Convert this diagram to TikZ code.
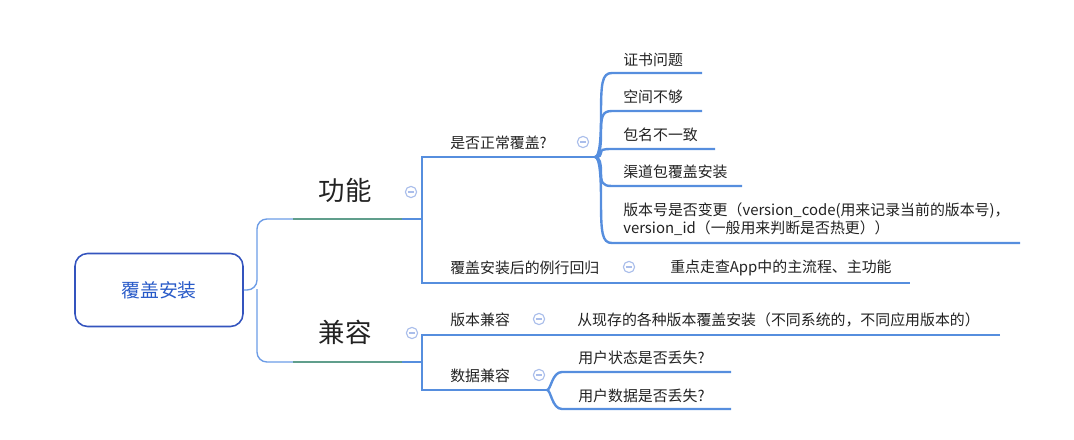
\documentclass[tikz,border=0pt]{standalone}
\usepackage{fontspec}
\setmainfont{Noto Sans CJK SC}
\definecolor{rootblue}{RGB}{52,84,190}
\definecolor{rootink}{RGB}{40,90,200}
\definecolor{linkblue}{RGB}{108,156,230}
\definecolor{branchblue}{RGB}{86,142,222}
\definecolor{mainteal}{RGB}{96,158,140}
\definecolor{foldblue}{RGB}{170,190,235}
\definecolor{ink}{RGB}{34,34,34}

\begin{document}
\begin{tikzpicture}[x=0.025cm, y=-0.025cm,
  topic/.style={anchor=west, text=ink, font=\fontsize{10.6}{12.8}\selectfont, inner sep=0pt},
  main/.style={text=ink, font=\fontsize{18.8}{22}\selectfont, inner sep=0pt},
  branch/.style={branchblue, line width=1.9pt},
  leafline/.style={branchblue, line width=1.7pt},
  fold/.style={circle, draw=foldblue, fill=white, line width=0.8pt, minimum size=8pt, inner sep=0pt,
    path picture={\draw[foldblue, line width=0.8pt] ([xshift=-2.2pt]path picture bounding box.center) -- ([xshift=2.2pt]path picture bounding box.center);}}]
  \useasboundingbox (0,0) rectangle (1074,440);

  % root
  \node[draw=rootblue, line width=1.1pt, rounded corners=9pt, minimum width=168*0.025cm,
        minimum height=73*0.025cm, text=rootink, font=\fontsize{13.4}{16}\selectfont] (root) at (159,290) {覆盖安装};

  % main topics
  \node[main] (gn) at (345,190) {功能};
  \node[main] (jr) at (345,332) {兼容};
  \coordinate (gn-s) at (293,219);
  \coordinate (gn-m) at (402,219);
  \coordinate (gn-e) at (422,219);
  \coordinate (jr-s) at (293,362);
  \coordinate (jr-m) at (402,362);
  \coordinate (jr-e) at (422,362);
  \node[fold] (gn-f) at (411,192) {};
  \node[fold] (jr-f) at (412,333) {};

  \draw[linkblue, line width=1pt, rounded corners=7pt]
    (root.east) -- (257,290) |- (gn-s);
  \draw[linkblue, line width=1pt, rounded corners=7pt]
    (257,289) |- (jr-s);
  \draw[mainteal, line width=1.5pt] (gn-s) -- (gn-m);
  \draw[mainteal, line width=1.5pt] (jr-s) -- (jr-m);
  \draw[branch] (gn-m) -- (gn-e);
  \draw[branch] (jr-m) -- (jr-e);

  % 功能
  \coordinate (fg) at (595,157);
  \coordinate (lh) at (422,283);
  \node[topic] (fg-t) at (450,143) {是否正常覆盖?};
  \node[topic] (lh-t) at (450,268) {覆盖安装后的例行回归};
  \node[fold] (fg-f) at (583,142) {};
  \node[fold] (lh-f) at (629,267) {};
  \draw[branch] (fg) -- (422,157) -- (lh) -- (910,283);
  \node[topic] (lh-a) at (670,268) {重点走查App中的主流程、主功能};

  \node[topic] (c1) at (623,60) {证书问题};
  \node[topic] (c2) at (623,97) {空间不够};
  \node[topic] (c3) at (623,135) {包名不一致};
  \node[topic] (c4) at (623,172) {渠道包覆盖安装};
  \node[topic, align=left] (c5) at (623,219) {版本号是否变更（version\_code(用来记录当前的版本号)，\\version\_id（一般用来判断是否热更））};
  \foreach \y/\e in {73/702, 111/702, 149/715, 186/742, 243/1020}{
    \draw[leafline] (fg) .. controls (600,157) and (601,{157+(\y-157)*0.25}) .. (601,{157+(\y-157)*0.5})
      .. controls (601,{\y+(157-\y)*0.12}) and (602,\y) .. (612,\y) -- (\e,\y);
  }

  % 兼容
  \coordinate (bb) at (422,335);
  \coordinate (sj) at (547,390);
  \node[topic] (bb-t) at (450,320) {版本兼容};
  \node[topic] (sj-t) at (450,376) {数据兼容};
  \node[fold] (bb-f) at (539,319) {};
  \node[fold] (sj-f) at (539,375) {};
  \draw[branch] (1000,335) -- (bb) -- (422,390) -- (sj);
  \node[topic] (bb-a) at (577,320) {从现存的各种版本覆盖安装（不同系统的，不同应用版本的）};

  \node[topic] (d1) at (578,358) {用户状态是否丢失?};
  \node[topic] (d2) at (578,396) {用户数据是否丢失?};
  \foreach \y in {372, 409}{
    \draw[leafline] (sj) .. controls (551,390) and (552,\y) .. (562,\y) -- (731,\y);
  }
\end{tikzpicture}
\end{document}
